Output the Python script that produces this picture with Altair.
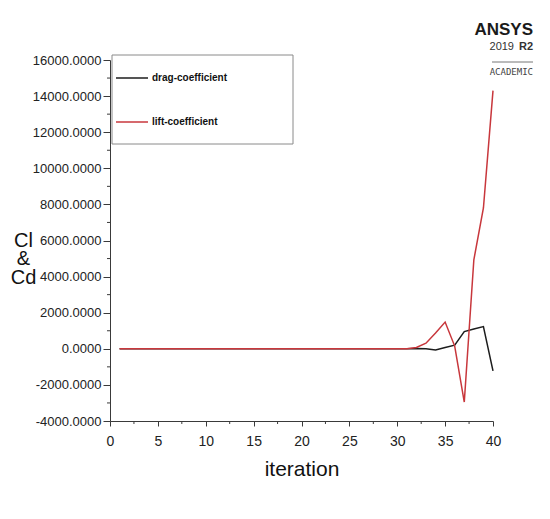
import altair as alt
import pandas as pd

# Convergence history of the force coefficients
iterations = list(range(1, 41))
drag_coefficient = [
    0, 0, 0, 0, 0, 0, 0, 0, 0, 0,
    0, 0, 0, 0, 0, 0, 0, 0, 0, 0,
    0, 0, 0, 0, 0, 0, 0, 0, 0, 0,
    0, 20, 0, -60, 70, 200, 950, 1100, 1230, -1220,
]
lift_coefficient = [
    0, 0, 0, 0, 0, 0, 0, 0, 0, 0,
    0, 0, 0, 0, 0, 0, 0, 0, 0, 0,
    0, 0, 0, 0, 0, 0, 0, 0, 0, 0,
    0, 70, 310, 880, 1480, 150, -2950, 4930, 7800, 14300,
]

series_names = ["drag-coefficient", "lift-coefficient"]
series_colors = ["#1c1c1c", "#c8373c"]

y_major = [-4000, -2000, 0, 2000, 4000, 6000, 8000, 10000, 12000, 14000, 16000]
y_minor = [-3000, -1000, 1000, 3000, 5000, 7000, 9000, 11000, 13000, 15000]
x_major = [0, 5, 10, 15, 20, 25, 30, 35, 40]
x_minor = [2.5, 7.5, 12.5, 17.5, 22.5, 27.5, 32.5, 37.5]

W, H = 383, 361
FONT = "Liberation Sans"
AXIS_COLOR = "#3a3a3a"

df = pd.DataFrame({"iteration": iterations,
                   "drag": drag_coefficient,
                   "lift": lift_coefficient})
one = pd.DataFrame({"k": [0]})

x_scale = alt.Scale(domain=[0, 40], nice=False, zero=False)
y_scale = alt.Scale(domain=[-4000, 16000], nice=False, zero=False)

x_axis = alt.Axis(
    values=x_major, format="d", grid=False, labelFlush=False,
    tickSize=5, tickColor=AXIS_COLOR, domainColor=AXIS_COLOR,
    labelFont=FONT, labelFontSize=14, labelColor="#222", labelPadding=8,
    title="iteration", titleFont=FONT, titleFontSize=21,
    titleFontWeight="normal", titleColor="#111", titlePadding=10,
)
y_axis = alt.Axis(
    values=y_major, grid=False, labelFlush=False,
    labelExpr="(datum.value < 0 ? '-' : '') + format(abs(datum.value), '.4f')",
    tickSize=7, tickColor=AXIS_COLOR, domainColor=AXIS_COLOR,
    labelFont=FONT, labelFontSize=13, labelColor="#222", labelPadding=2,
    title=["Cl", "&", "Cd"], titleAngle=0, titleX=-87, titleY=180,
    titleAlign="center", titleBaseline="middle", titleFont=FONT,
    titleFontSize=20, titleFontWeight="normal", titleLineHeight=18.5,
    titleColor="#111",
)


def xpos(field):
    return alt.X(field, scale=x_scale, axis=x_axis)


def ypos(field):
    return alt.Y(field, scale=y_scale, axis=y_axis)


drag_line = alt.Chart(df).mark_line(color=series_colors[0], strokeWidth=1.5).encode(
    x=xpos("iteration:Q"), y=ypos("drag:Q"),
)
lift_line = alt.Chart(df).mark_line(color=series_colors[1], strokeWidth=1.5).encode(
    x=xpos("iteration:Q"), y=ypos("lift:Q"),
)

# minor ticks between the labelled ones
y_minor_ticks = alt.Chart(pd.DataFrame({"v": y_minor})).mark_rule(
    color=AXIS_COLOR, strokeWidth=1
).encode(
    y=ypos("v:Q"), x=alt.value(-3), x2=alt.value(0),
)
x_minor_ticks = alt.Chart(pd.DataFrame({"v": x_minor})).mark_rule(
    color=AXIS_COLOR, strokeWidth=1
).encode(
    x=xpos("v:Q"), y=alt.value(H), y2=alt.value(H + 3),
)

# legend box with one entry per series
legend_box = alt.Chart(one).mark_rect(
    fill="white", stroke="#8a8a8a", strokeWidth=1
).encode(
    x=alt.value(2), x2=alt.value(183), y=alt.value(-5), y2=alt.value(84)
)
legend_layers = [legend_box]
for i, (name, color) in enumerate(zip(series_names, series_colors)):
    ly = 18 + 44 * i
    legend_layers.append(
        alt.Chart(one).mark_rule(color=color, strokeWidth=1.5).encode(
            x=alt.value(6), x2=alt.value(38), y=alt.value(ly)
        )
    )
    legend_layers.append(
        alt.Chart(one).mark_text(
            text=name, font=FONT, fontSize=10, fontWeight="bold",
            color="#111", align="left", baseline="middle"
        ).encode(x=alt.value(42), y=alt.value(ly))
    )

# product badge in the top-right corner
badge = [
    alt.Chart(one).mark_text(
        text="ANSYS", font=FONT, fontSize=17, fontWeight="bold",
        color="#1a1a1a", align="right", baseline="alphabetic"
    ).encode(x=alt.value(423), y=alt.value(-25)),
    alt.Chart(one).mark_text(
        text="R2", font=FONT, fontSize=11, fontWeight="bold",
        color="#333", align="right", baseline="alphabetic"
    ).encode(x=alt.value(423), y=alt.value(-10)),
    alt.Chart(one).mark_text(
        text="2019", font=FONT, fontSize=11,
        color="#333", align="right", baseline="alphabetic"
    ).encode(x=alt.value(404), y=alt.value(-10)),
    alt.Chart(one).mark_rule(color="#777", strokeWidth=1).encode(
        x=alt.value(382), x2=alt.value(423), y=alt.value(2)
    ),
    alt.Chart(one).mark_text(
        text="ACADEMIC", font="DejaVu Sans Mono", fontSize=9,
        color="#444", align="right", baseline="alphabetic"
    ).encode(x=alt.value(423), y=alt.value(15)),
]

chart = alt.layer(
    drag_line, lift_line, y_minor_ticks, x_minor_ticks, *legend_layers, *badge
).properties(
    width=W, height=H,
    autosize=alt.AutoSizeParams(type="none"),
    padding={"left": 110, "top": 60, "right": 57, "bottom": 98},
    background="white",
).configure_view(stroke=None)

chart.save("out.html", embed_options={"renderer": "svg", "actions": False})
